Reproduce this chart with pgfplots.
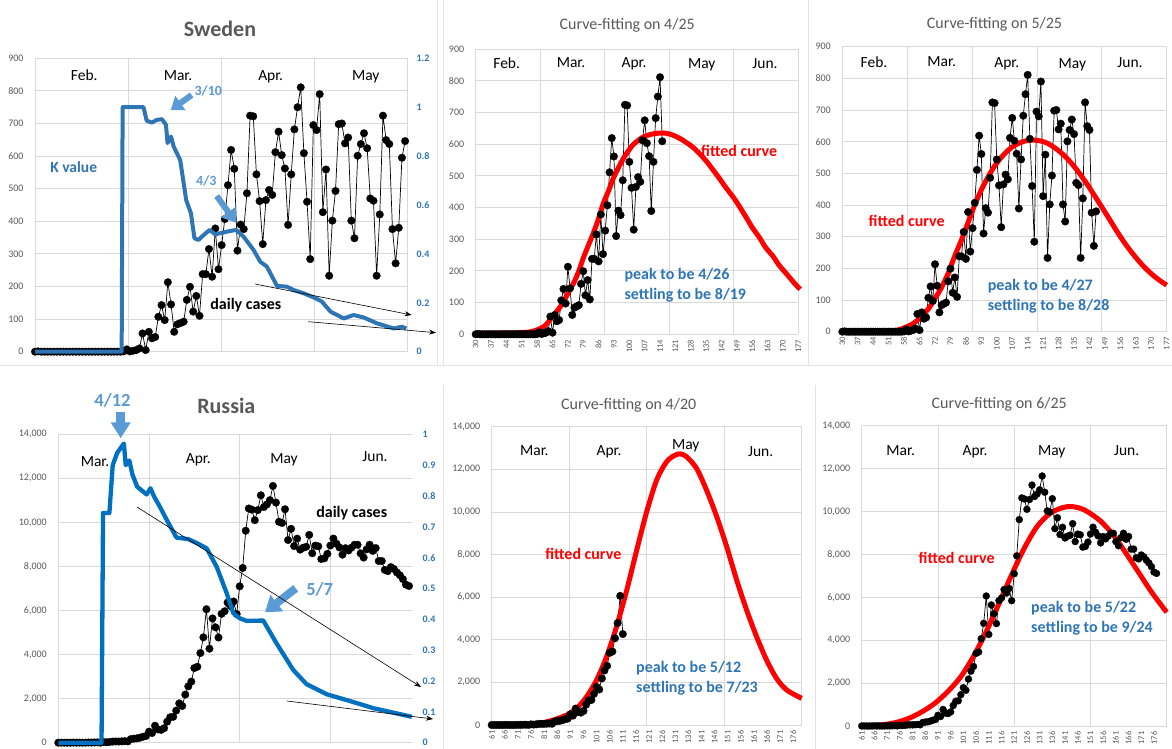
\documentclass[border=0pt]{standalone}
\usepackage{fontspec}
\setmainfont{Carlito}
\usepackage{pgfplots}
\usepackage{pgfplotstable}
\pgfplotsset{compat=1.18}
\usetikzlibrary{arrows.meta}

\definecolor{gridgray}{HTML}{D9D9D9}
\definecolor{labgray}{HTML}{595959}
\definecolor{kblue}{HTML}{2E75B6}
\definecolor{rblue}{HTML}{0070C0}
\definecolor{ablue}{HTML}{5B9BD5}
\definecolor{sepgray}{HTML}{E3E3E3}
\newcommand\fs[1]{\fontsize{#1}{#1}\selectfont}

% ---------------- Sweden daily cases ----------------
\pgfplotstableread{
x y
30 0
31 1
32 0
33 0
34 0
35 0
36 0
37 0
38 0
39 0
40 0
41 0
42 0
43 0
44 0
45 0
46 0
47 0
48 0
49 0
50 0
51 0
52 0
53 0
54 0
55 0
56 0
57 0
58 1
59 7
60 1
61 3
62 5
63 10
64 56
65 5
66 61
67 41
68 45
69 107
70 143
71 97
72 213
73 145
74 61
75 84
76 88
77 92
78 159
79 199
80 123
81 171
82 110
83 238
84 238
85 315
86 230
87 378
88 253
89 327
90 407
91 511
92 619
93 561
94 310
95 390
96 376
97 486
98 724
99 722
100 544
101 462
102 330
103 465
104 496
105 481
106 612
107 675
108 603
109 562
110 389
111 544
112 682
113 750
114 811
115 609
116 460
117 284
118 695
119 680
120 790
121 428
122 559
123 233
124 402
125 493
126 698
127 700
128 639
129 657
130 402
131 348
132 601
133 637
134 670
135 624
136 470
137 463
138 233
139 421
140 724
141 649
142 637
143 376
144 271
145 380
146 595
147 646
}\swe

% ---------------- Sweden K value ----------------
\pgfplotstableread{
x y
30 0
57.4 0
57.7 1.0
64.3 1.0
65.3 0.945
66.9 0.937
68.5 0.948
70.1 0.951
71.4 0.928
71.9 0.853
73 0.88
73.8 0.84
75.9 0.784
77.8 0.62
79.3 0.566
80.4 0.464
81.7 0.457
82.7 0.47
85.2 0.498
87 0.48
90.7 0.491
93.6 0.498
95.9 0.471
99.1 0.416
101.2 0.368
103.3 0.348
106.5 0.269
109.6 0.266
111.8 0.252
114.9 0.239
118.1 0.222
120.7 0.205
123.4 0.164
127.6 0.136
130.7 0.15
133.9 0.14
138.1 0.116
143.4 0.095
146 0.102
147.4 0.095
}\swek

% ---------------- Sweden fitted curve on 4/25 ----------------
\pgfplotstableread{
x y
30 4
40 4
50 5
55 8
58 14
61 24
63 38
65 56
68 82
70 103
72.5 135
75 167
77 200
79 240
81 275
83.6 319
86 365
88 410
90.5 452
92.7 492
95 525
97.3 555
100 583
102 600
106 621
110 631
114 635
117 634
120 628
123 618
126 605
129 590
132 570
135 547
138 520
141 492
144 463
147.4 432
150 405
153.5 366
156 337
159.5 303
162 275
165.6 245
168 220
171.7 190
175 163
177.8 142
}\swefa

% ---------------- Sweden fitted curve on 5/25 ----------------
\pgfplotstableread{
x y
30 1
50 2
55 5
60 18
63 30
66 50
69 72
72 105
75 140
78 185
81 240
84 290
87 345
90 400
93 448
96 488
99 523
102 550
105 572
108 588
111 598
114 604
117 605
120 602
123 595
126 582
129 566
132 546
135 522
138 495
141 465
144 433
147 400
150 367
153 333
156 300
159 270
162 243
165 218
168 196
171 177
174 161
177 147
}\swefb

% ---------------- Russia daily cases ----------------
\pgfplotstableread{
x y
61 0
62 3
63 0
64 0
65 1
66 6
67 3
68 3
69 0
70 3
71 8
72 6
73 11
74 14
75 4
76 30
77 21
78 33
79 52
80 54
81 53
82 61
83 71
84 57
85 163
86 182
87 196
88 228
89 270
90 302
91 501
92 440
93 771
94 601
95 582
96 658
97 954
98 1154
99 1175
100 1459
101 1786
102 1667
103 2186
104 2558
105 2774
106 3388
107 3448
108 4070
109 4785
110 6060
111 4268
112 5642
113 5236
114 4774
115 5849
116 5966
117 6361
118 6198
119 6411
120 5841
121 7099
122 7933
123 9623
124 10633
125 10581
126 10102
127 10559
128 11231
129 10699
130 10817
131 11012
132 11656
133 10899
134 10028
135 9974
136 10598
137 9200
138 9709
139 8926
140 9263
141 8764
142 8849
143 8894
144 9434
145 8599
146 8946
147 8915
148 8338
149 8371
150 8572
151 8952
152 9268
153 9035
154 8863
155 8536
156 8831
157 8726
158 8855
159 8984
160 8985
161 8595
162 8404
163 8779
164 8987
165 8706
166 8835
167 8246
168 8248
169 7843
170 7790
171 7972
172 7889
173 7728
174 7600
175 7425
176 7176
177 7113
}\rus

% ---------------- Russia K value ----------------
\pgfplotstableread{
x y
61 0
75.3 0
75.8 0.745
77.9 0.745
79.0 0.90
80.5 0.94
82.7 0.97
83.3 0.90
84.5 0.915
85.5 0.87
87.1 0.83
90.2 0.805
91.5 0.825
92.6 0.80
94.6 0.765
97 0.72
100.1 0.665
104 0.66
107.3 0.645
110.1 0.63
113.4 0.57
116.7 0.485
118.9 0.42
121.1 0.403
123.3 0.395
128.8 0.396
133.2 0.322
138.7 0.236
143.1 0.19
149.8 0.157
157.5 0.135
165.2 0.112
177.9 0.084
}\rusk

% ---------------- Russia fitted curve on 4/20 ----------------
\pgfplotstableread{
x y
61 0
70 10
75 35
79.4 78
84.5 235
89.6 470
93.4 782
97.2 1330
101 2112
104.8 3207
108.6 4615
112.5 6335
116.3 8212
120.1 10011
123.9 11497
127.7 12357
131 12670
133 12720
135.3 12592
139.1 12044
142.9 11028
146.8 9776
150.6 8368
154.4 6804
158.2 5396
162 4145
165.8 3050
169.6 2190
173.5 1642
179.2 1251
}\rusfa

% ---------------- Russia fitted curve on 6/25 ----------------
\pgfplotstableread{
x y
61 0
65 20
70 70
75 180
80 380
85 680
90 1080
95 1620
100 2300
105 3250
110 4400
115 5700
120 7050
125 8300
130 9300
135 9900
140 10180
143.5 10230
147 10150
150 9980
155 9550
160 8900
165 8050
170 7150
175 6250
181 5300
}\rusfb

\pgfplotsset{
  panel/.style={
    scale only axis, clip=false, anchor=south west,
    axis line style={draw=none},
    major tick length=0pt, tick style={draw=none},
    ymajorgrids,
    major grid style={gridgray, line width=0.8pt},
    /pgf/number format/assume math mode=true,
    /pgf/number format/1000 sep={,},
    scaled y ticks=false,
    tick label style={font=\fs{10}, text=labgray},
  },
  leftlab/.style={yticklabel style={xshift=-8pt}},
  rotx/.style={xticklabel style={rotate=90, anchor=east, font=\fs{8.5}}, xticklabel shift=2pt},
  dots/.style={black, line width=0.7pt, mark=*, mark size=3.8pt,
               mark options={solid, fill=black, draw=black, line width=0.3pt}},
  fitc/.style={red, line width=5pt, smooth, no markers, line join=round},
}

\begin{document}
\begin{tikzpicture}

% ================= Panel 1: Sweden =================
\begin{axis}[panel, leftlab, at={(35pt,397.3pt)}, width=372pt, height=293.4pt,
  xmin=30, xmax=147.6, ymin=0, ymax=900, ytick={0,100,...,900},
  xtick={30,59.4,88.8,118.2,147.6}, xticklabels={}, xmajorgrids]
  \addplot[dots] table {\swe};
\end{axis}
\begin{axis}[panel, at={(35pt,397.3pt)}, width=372pt, height=293.4pt,
  xmin=30, xmax=147.6, ymin=0, ymax=1.2, ymajorgrids=false,
  xtick=\empty, axis y line*=right,
  ytick={0,0.2,0.4,0.6,0.8,1,1.2},
  yticklabel style={xshift=6pt, text=kblue, font=\bfseries\fs{10}}]
  \addplot[kblue, line width=4pt, line join=round, no markers] table {\swek};
\end{axis}

% ================= Panel 2: Sweden fit 4/25 =================
\begin{axis}[panel, leftlab, rotx, at={(475.7pt,414.7pt)}, width=322.6pt, height=285.3pt,
  xmin=30, xmax=177, ymin=0, ymax=900, ytick={0,100,...,900},
  xtick={30,37,...,177},
  extra x ticks={30,59.4,88.8,118.2,147.6,177}, extra x tick labels={},
  extra x tick style={grid=major}]
  \addplot[dots, restrict x to domain=30:115] table {\swe};
  \addplot[fitc] table {\swefa};
\end{axis}

% ================= Panel 3: Sweden fit 5/25 =================
\begin{axis}[panel, leftlab, rotx, at={(842.3pt,417.3pt)}, width=324.4pt, height=285pt,
  xmin=30, xmax=177, ymin=0, ymax=900, ytick={0,100,...,900},
  xtick={30,37,...,177},
  extra x ticks={30,59.4,88.8,118.2,147.6,177}, extra x tick labels={},
  extra x tick style={grid=major}]
  \addplot[dots, restrict x to domain=30:145] table {\swe};
  \addplot[fitc] table {\swefb};
\end{axis}

% ================= Panel 4: Russia =================
\begin{axis}[panel, leftlab, at={(58.3pt,6.3pt)}, width=353.7pt, height=308.4pt,
  xmin=61, xmax=178, ymin=0, ymax=14000, ytick={0,2000,...,14000},
  xtick={61,91,121,151}, xticklabels={}, xmajorgrids]
  \addplot[dots] table {\rus};
\end{axis}
\begin{axis}[panel, at={(58.3pt,6.3pt)}, width=353.7pt, height=308.4pt,
  xmin=61, xmax=178, ymin=0, ymax=1, ymajorgrids=false,
  xtick=\empty, axis y line*=right,
  ytick={0,0.1,0.2,0.3,0.4,0.5,0.6,0.7,0.8,0.9,1},
  yticklabel style={xshift=7pt, text=kblue, font=\bfseries\fs{10}}]
  \addplot[rblue, line width=4.3pt, line join=round, no markers] table {\rusk};
\end{axis}

% ================= Panel 5: Russia fit 4/20 =================
\begin{axis}[panel, leftlab, rotx, at={(491.7pt,24pt)}, width=310pt, height=298.3pt,
  xmin=61, xmax=179.2, ymin=0, ymax=14000, ytick={0,2000,...,14000},
  xtick={61,66,...,176},
  extra x ticks={61,90.55,120.1,149.65,179.2}, extra x tick labels={},
  extra x tick style={grid=major}]
  \addplot[dots, restrict x to domain=61:111] table {\rus};
  \addplot[fitc] table {\rusfa};
\end{axis}

% ================= Panel 6: Russia fit 6/25 =================
\begin{axis}[panel, leftlab, rotx, at={(861.7pt,23pt)}, width=305pt, height=300.3pt,
  xmin=61, xmax=181, ymin=0, ymax=14000, ytick={0,2000,...,14000},
  xtick={61,66,...,176},
  extra x ticks={61,91,121,151,181}, extra x tick labels={},
  extra x tick style={grid=major}]
  \addplot[dots, mark size=3.5pt] table {\rus};
  \addplot[fitc] table {\rusfb};
\end{axis}

% ================= texts and annotations (pixel coordinates, y down) =================
\begin{scope}[x=1pt, y=-1pt, yshift=749pt]
  % separators
  \draw[sepgray, line width=0.8pt] (437,0) -- (437,365);
  \draw[sepgray, line width=0.8pt] (443,0) -- (443,365);
  \draw[sepgray, line width=0.8pt] (808,0) -- (808,365);
  \draw[sepgray, line width=0.8pt] (0,365) -- (1172,365);
  \draw[sepgray, line width=0.8pt] (443,385) -- (443,749);
  \draw[sepgray, line width=0.8pt] (815,385) -- (815,749);

  % titles
  \node[anchor=base, font=\bfseries\fs{22}, text=labgray] at (220,37) {Sweden};
  \node[anchor=base, font=\bfseries\fs{22}, text=labgray] at (226.3,414) {Russia};
  \node[anchor=base, font=\fs{16}, text=labgray] at (627.2,30) {Curve-fitting on 4/25};
  \node[anchor=base, font=\fs{16}, text=labgray] at (994.5,28.3) {Curve-fitting on 5/25};
  \node[anchor=base, font=\fs{16}, text=labgray] at (628.7,409.3) {Curve-fitting on 4/20};
  \node[anchor=base, font=\fs{16}, text=labgray] at (999.2,408.3) {Curve-fitting on 6/25};

  % month labels
  \begin{scope}[every node/.style={anchor=base, font=\fs{15.5}, text=black}]
    \node at (84.3,80.5) {Feb.}; \node at (178,80.5) {Mar.};
    \node at (270.7,80.5) {Apr.}; \node at (365.7,81) {May};
    \node at (506.7,69) {Feb.}; \node at (571,67.7) {Mar.}; \node at (634,67.7) {Apr.};
    \node at (701.7,69) {May}; \node at (765,69) {Jun.};
    \node at (874,67.7) {Feb.}; \node at (941.7,66.7) {Mar.}; \node at (1006.7,67.7) {Apr.};
    \node at (1072.3,68.3) {May}; \node at (1130,67.7) {Jun.};
    \node at (95,466.7) {Mar.}; \node at (198.3,463.3) {Apr.};
    \node at (284,463.3) {May}; \node at (375,461.7) {Jun.};
    \node at (534.3,456) {Mar.}; \node at (609,456) {Apr.};
    \node at (685.7,449.3) {May}; \node at (760.7,456.7) {Jun.};
    \node at (900.7,456) {Mar.}; \node at (975,456) {Apr.};
    \node at (1051.7,456) {May}; \node at (1126.7,456) {Jun.};
  \end{scope}

  % panel 1 annotations
  \node[anchor=base, font=\bfseries\fs{15.5}, text=kblue] at (73.7,172.3) {K value};
  \node[anchor=base, font=\bfseries\fs{16}, text=black] at (245.8,310) {daily cases};
  \node[anchor=base, font=\bfseries\fs{14}, text=ablue] at (208.3,96) {3/10};
  \node[anchor=base, font=\bfseries\fs{14}, text=ablue] at (206.3,186) {4/3};
  \draw[ablue, line width=6pt, -{Triangle[width=17pt,length=12pt]}] (191.7,95) -- (170.7,110);
  \draw[ablue, line width=6pt, -{Triangle[width=17pt,length=13pt]}] (216.7,196) -- (236,222.7);
  \draw[black, line width=0.6pt, -{Stealth[length=7pt,width=5pt]}] (255,284) -- (411.7,315);
  \draw[black, line width=0.6pt, -{Stealth[length=7pt,width=5pt]}] (308.3,321.7) -- (436,332.7);

  % panel 2 / 3 texts
  \node[anchor=base, font=\bfseries\fs{16}, text=red] at (739.2,156.7) {fitted curve};
  \node[anchor=base west, font=\bfseries\fs{16}, text=kblue] at (621,280) {peak to be 4/26};
  \node[anchor=base west, font=\bfseries\fs{16}, text=kblue] at (621,299.3) {settling to be 8/19};
  \node[anchor=base, font=\bfseries\fs{16}, text=red] at (906.7,226.7) {fitted curve};
  \node[anchor=base west, font=\bfseries\fs{16}, text=kblue] at (984.3,291) {peak to be 4/27};
  \node[anchor=base west, font=\bfseries\fs{16}, text=kblue] at (984.3,311) {settling to be 8/28};

  % panel 4 annotations
  \node[anchor=base, font=\bfseries\fs{16}, text=black] at (351.7,517.7) {daily cases};
  \node[anchor=base, font=\bfseries\fs{18.5}, text=ablue] at (112.5,406.7) {4/12};
  \node[anchor=base, font=\bfseries\fs{18.5}, text=ablue] at (319.7,596) {5/7};
  \draw[ablue, line width=9pt, -{Triangle[width=19pt,length=16pt]}] (120.7,411.7) -- (120.7,438.3);
  \draw[ablue, line width=8pt, -{Triangle[width=20pt,length=15pt]}] (295.7,588.3) -- (265,612.3);
  \draw[black, line width=0.6pt, -{Stealth[length=7pt,width=5pt]}] (137,507) -- (421,687);
  \draw[black, line width=0.6pt, -{Stealth[length=7pt,width=5pt]}] (287,701) -- (433,719);

  % panel 5 / 6 texts
  \node[anchor=base, font=\bfseries\fs{16}, text=red] at (583.3,559.3) {fitted curve};
  \node[anchor=base west, font=\bfseries\fs{16}, text=kblue] at (632.7,672.7) {peak to be 5/12};
  \node[anchor=base west, font=\bfseries\fs{16}, text=kblue] at (632.7,692.7) {settling to be 7/23};
  \node[anchor=base, font=\bfseries\fs{16}, text=red] at (956.7,564) {fitted curve};
  \node[anchor=base west, font=\bfseries\fs{16}, text=kblue] at (1027.7,612.7) {peak to be 5/22};
  \node[anchor=base west, font=\bfseries\fs{16}, text=kblue] at (1027.7,632.7) {settling to be 9/24};
\end{scope}

\pgfresetboundingbox
\useasboundingbox (0,0) rectangle (1172pt,749pt);
\end{tikzpicture}
\end{document}
